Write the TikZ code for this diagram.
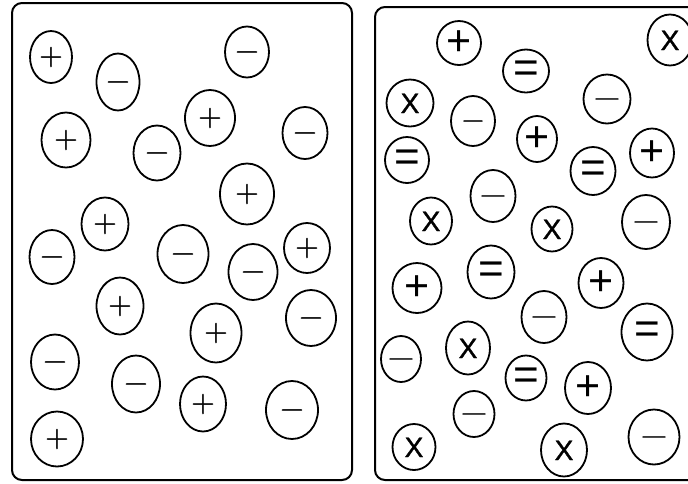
\documentclass[tikz,border=0pt]{standalone}
\usepackage{fontspec}
\newfontfamily\arialf{Liberation Sans}
\newfontfamily\arialx{Liberation Sans}[FakeBold=1.2]
\newfontfamily\lmsym{Latin Modern Roman}[FakeBold=1.2]
\newfontfamily\lmthin{Latin Modern Roman}[FakeBold=0.5]
\usetikzlibrary{shapes.geometric}
\tikzset{
  ion/.style={draw, ellipse, line width=1.8pt, inner sep=0pt},
  lsym/.style={ion, font=\lmsym\fontsize{32}{32}\selectfont, text height=16pt, text depth=0pt},
  rminus/.style={ion, font=\lmthin\fontsize{37}{37}\selectfont, text height=18.5pt, text depth=0pt},
  rplus/.style={ion, font=\arialf\fontsize{43}{43}\selectfont, text height=24.5pt, text depth=-5.6pt},
  requal/.style={ion, font=\arialf\fontsize{44}{44}\selectfont, text height=22pt, text depth=-8.8pt},
  rx/.style={ion, font=\arialx\fontsize{28}{28}\selectfont, text height=20pt, text depth=0pt},
  panel/.style={draw, line width=2pt, rounded corners=10pt},
  sz/.style 2 args={minimum width=#1pt, minimum height=#2pt}
}
\begin{document}
\begin{tikzpicture}[x=1pt, y=-1pt]
\useasboundingbox (0,0) rectangle (688,483);
\clip (0,0) rectangle (688,483);
% panels
\draw[panel] (12,3) rectangle (352,480);
\draw[panel] (375,7) rectangle (710,480);
% left panel
\node[lsym, sz={42}{52}] (a1) at (51,57) {+};
\node[lsym, sz={43}{57}] (a2) at (118,82) {−};
\node[lsym, sz={44}{51}] (a3) at (247,52) {−};
\node[lsym, sz={49}{55}] (a4) at (66,140) {+};
\node[lsym, sz={47}{55}] (a5) at (157,153) {−};
\node[lsym, sz={50}{56}] (a6) at (210,118) {+};
\node[lsym, sz={45}{52}] (a7) at (305,133) {−};
\node[lsym, sz={54}{61}] (a8) at (247,194) {+};
\node[lsym, sz={47}{53}] (a9) at (105,224) {+};
\node[lsym, sz={45}{54}] (a10) at (52,257) {−};
\node[lsym, sz={51}{58}] (a11) at (183,254) {−};
\node[lsym, sz={49}{56}] (a12) at (253,272) {−};
\node[lsym, sz={46}{50}] (a13) at (307,248) {+};
\node[lsym, sz={47}{57}] (a14) at (120,306) {+};
\node[lsym, sz={51}{59}] (a15) at (216,333) {+};
\node[lsym, sz={50}{56}] (a16) at (311,318) {−};
\node[lsym, sz={48}{55}] (a17) at (55,362) {−};
\node[lsym, sz={48}{57}] (a18) at (136,384) {−};
\node[lsym, sz={46}{55}] (a19) at (203,404) {+};
\node[lsym, sz={52}{58}] (a20) at (292,410) {−};
\node[lsym, sz={52}{55}] (a21) at (57,439) {+};
% right panel
\node[rplus, sz={44}{44}] (b1) at (459,43) {+};
\node[requal, sz={46}{43}] (b2) at (526,71) {=};
\node[rx, sz={45}{51}] (b3) at (670,40) {X};
\node[rx, sz={47}{47}] (b4) at (410,103) {X};
\node[rminus, sz={44}{50}, font=\lmthin\fontsize{31}{31}\selectfont, text height=15.5pt] (b5) at (473,121) {−};
\node[rminus, sz={47}{49}] (b6) at (607,99) {−};
\node[rplus, sz={40}{46}] (b7) at (537,139) {+};
\node[requal, sz={44}{46}] (b8) at (407,160) {=};
\node[requal, sz={45}{48}] (b9) at (593,171) {=};
\node[rplus, sz={44}{49}] (b10) at (652,153) {+};
\node[rminus, sz={45}{52}] (b11) at (493,196) {−};
\node[rx, sz={42}{47}] (b12) at (431,221) {X};
\node[rx, sz={41}{45}] (b13) at (552,229) {X};
\node[rminus, sz={48}{54}] (b14) at (646,222) {−};
\node[rplus, sz={49}{50}] (b15) at (417,288) {+};
\node[requal, sz={47}{53}] (b16) at (491,272) {=};
\node[rplus, sz={45}{50}] (b17) at (601,283) {+};
\node[rminus, sz={45}{52}] (b18) at (544,317) {−};
\node[requal, sz={51}{57}] (b19) at (647,332) {=};
\node[rminus, sz={40}{46}] (b20) at (401,359) {−};
\node[rx, sz={44}{53}] (b21) at (468,348) {X};
\node[requal, sz={41}{45}] (b22) at (526,378) {=};
\node[rplus, sz={46}{52}] (b23) at (588,388) {+};
\node[rminus, sz={41}{46}] (b24) at (474,414) {−};
\node[rx, sz={43}{46}] (b25) at (414,447) {X};
\node[rx, sz={46}{53}] (b26) at (564,450) {X};
\node[rminus, sz={51}{55}] (b27) at (654,437) {−};
\end{tikzpicture}
\end{document}
